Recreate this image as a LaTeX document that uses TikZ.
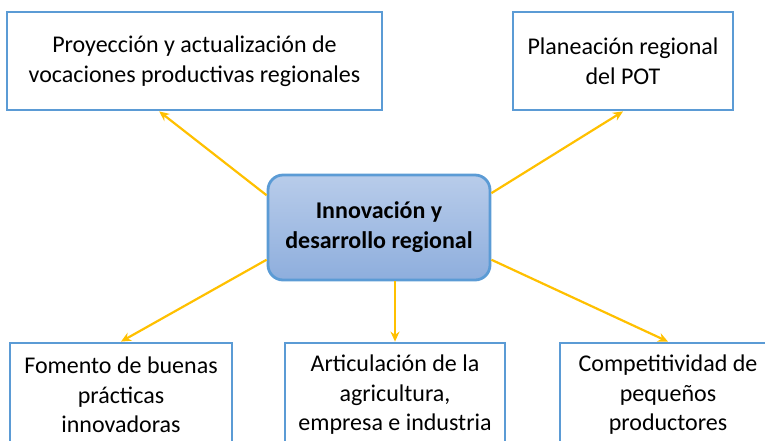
\documentclass[tikz,border=0pt]{standalone}
\usepackage{fontspec}
\setmainfont{Carlito}
\usetikzlibrary{arrows.meta,shadings}
\definecolor{boxblue}{HTML}{5B9BD5}
\definecolor{arrowgold}{HTML}{FFC000}
\definecolor{filltop}{HTML}{B8CCEA}
\definecolor{fillbot}{HTML}{8EAEDD}
\tikzset{
  topic/.style={draw=boxblue, line width=2.8pt, fill=white, align=center,
    inner sep=0pt, font=\fontsize{24}{29.5}\selectfont},
  core/.style={draw=boxblue, line width=2.8pt, rounded corners=15pt,
    top color=filltop, bottom color=fillbot, align=center, inner sep=0pt,
    minimum width=222pt, minimum height=105pt,
    font=\fontsize{24}{30}\selectfont\bfseries},
  link/.style={draw=arrowgold, line width=2.2pt, -{Stealth[length=10pt,width=9pt]}}
}
\begin{document}
\begin{tikzpicture}[x=1pt,y=-1pt]
  \useasboundingbox (0,0) rectangle (765,440);
  \clip (0,0) rectangle (765,440);
  \node[core] (innov) at (379,227.5) {Innovación y\\desarrollo regional};
  \node[topic, minimum width=375pt, minimum height=98pt] (proy) at (194.5,61)
    {Proyección y actualización de\\vocaciones productivas regionales};
  \node[topic, minimum width=220pt, minimum height=98pt] (plan) at (623,61)
    {Planeación regional\\del POT};
  \node[topic, minimum width=222pt, minimum height=104pt] (fom) at (121,395)
    {Fomento de buenas\\prácticas\\innovadoras};
  \node[topic, minimum width=220pt, minimum height=104pt] (art) at (395,395)
    {Articulación de la\\agricultura,\\empresa e industria};
  \node[topic, minimum width=216pt, minimum height=104pt] (comp) at (668,395)
    {Competitividad de\\pequeños\\productores};
  \begin{scope}[link]
    \draw (innov.164) to (proy.235);
    \draw (innov.17) to (plan.south);
    \draw (innov.196) to (fom.north);
    \draw (innov.south -| art.north) to (art.north);
    \draw (innov.344) to (comp.north);
  \end{scope}
\end{tikzpicture}
\end{document}
